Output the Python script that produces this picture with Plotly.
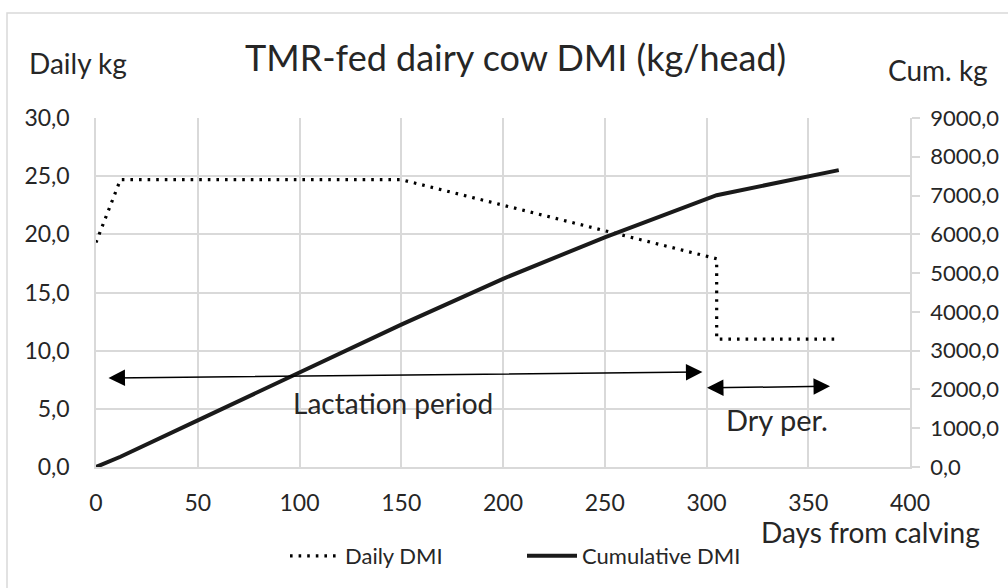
import plotly.graph_objects as go

# Daily dry matter intake (kg/head/day) by day from calving
daily_days = [0, 12, 150, 305, 305, 365]
daily_kg = [19.3, 24.7, 24.7, 17.9, 11.0, 11.0]

# Cumulative dry matter intake (kg/head)
cum_days = [0, 12, 50, 100, 150, 200, 250, 305, 365]
cum_kg = [0, 264, 1203, 2438, 3673, 4853, 5924, 7010, 7655]

# Axis ticks
x_ticks = [0, 50, 100, 150, 200, 250, 300, 350, 400]
y_ticks = [0, 5, 10, 15, 20, 25, 30]
y_tick_text = ["0,0", "5,0", "10,0", "15,0", "20,0", "25,0", "30,0"]
y2_ticks = [0, 1000, 2000, 3000, 4000, 5000, 6000, 7000, 8000, 9000]
y2_tick_text = ["0,0", "1000,0", "2000,0", "3000,0", "4000,0", "5000,0",
                "6000,0", "7000,0", "8000,0", "9000,0"]

# Period arrows: (start day, start kg, end day, end kg)
lactation_arrow = [5.4, 7.65, 298, 8.17]
dry_arrow = [299.5, 6.8, 360.7, 6.94]

FONT = "Lato"
TXT = "#262626"
GRID = "#d9d9d9"

fig = go.Figure()
fig.add_trace(go.Scatter(
    x=daily_days, y=daily_kg, mode="lines", name="Daily DMI",
    line=dict(color="#000000", width=3.2, dash="2.6px,6px"),
))
fig.add_trace(go.Scatter(
    x=cum_days, y=cum_kg, mode="lines", name="Cumulative DMI", yaxis="y2",
    line=dict(color="#1a1a1a", width=4),
))

annotations = []
for a in (lactation_arrow, dry_arrow):
    annotations.append(dict(
        x=a[2], y=a[3], ax=a[0], ay=a[1], xref="x", yref="y", axref="x", ayref="y",
        text="", showarrow=True, arrowside="end+start",
        arrowhead=2, startarrowhead=2, arrowsize=2.2, startarrowsize=2.2,
        arrowwidth=1.5, arrowcolor="#000000", standoff=0, startstandoff=0,
    ))

annotations += [
    dict(x=146.0, y=5.5, xref="x", yref="y", text="Lactation period", showarrow=False,
         font=dict(family=FONT, size=28, color=TXT)),
    dict(x=334.8, y=4.1, xref="x", yref="y", text="Dry per.", showarrow=False,
         font=dict(family=FONT, size=29, color=TXT)),
    dict(x=515, y=57, xref="paper", yref="paper", text="TMR-fed dairy cow DMI (kg/head)",
         showarrow=False, font=dict(family=FONT, size=36, color=TXT)),
    dict(x=78, y=63, text="Daily kg", showarrow=False,
         font=dict(family=FONT, size=28, color=TXT)),
    dict(x=938, y=70, text="Cum. kg", showarrow=False,
         font=dict(family=FONT, size=28, color=TXT)),
    dict(x=870, y=532, text="Days from calving", showarrow=False,
         font=dict(family=FONT, size=28, color=TXT)),
]

# Position the free-standing labels in pixel space of the 1008x588 canvas
L, R, T, B = 96, 98, 118, 121
PW, PH = 1008 - L - R, 588 - T - B
for an in annotations[-4:]:
    an["xref"] = "paper"
    an["yref"] = "paper"
    an["x"] = (an["x"] - L) / PW
    an["y"] = (588 - B - an["y"]) / PH
    an["xanchor"] = "center"
    an["yanchor"] = "middle"

fig.update_layout(
    width=1008, height=588,
    margin=dict(l=L, r=R, t=T, b=B, autoexpand=False),
    paper_bgcolor="white", plot_bgcolor="white",
    font=dict(family=FONT, color=TXT, size=22),
    showlegend=True,
    legend=dict(orientation="h", x=(285 - L) / PW, xanchor="left", y=-0.255,
                yanchor="middle", font=dict(family=FONT, size=22, color=TXT),
                entrywidth=172, entrywidthmode="pixels", itemwidth=50,
                bgcolor="rgba(0,0,0,0)"),
    xaxis=dict(range=[0, 400], tickvals=x_ticks, showgrid=True, gridcolor=GRID,
               gridwidth=1.5, zeroline=False, showline=True, linecolor=GRID,
               linewidth=1.5, ticks="", ticklabelstandoff=15, automargin=False,
               tickfont=dict(size=23, color=TXT)),
    yaxis=dict(range=[0, 30], tickvals=y_ticks, ticktext=y_tick_text, showgrid=True,
               gridcolor=GRID, gridwidth=1.5, zeroline=False, showline=True,
               linecolor=GRID, linewidth=1.5, ticks="", ticklabelstandoff=20,
               automargin=False, tickfont=dict(size=23, color=TXT)),
    yaxis2=dict(range=[0, 9000], tickvals=y2_ticks, ticktext=y2_tick_text,
                overlaying="y", side="right", showgrid=False, zeroline=False,
                showline=True, linecolor=GRID, linewidth=1.5, ticks="outside",
                ticklen=8, tickwidth=1.5, tickcolor=GRID, ticklabelstandoff=6,
                automargin=False, tickfont=dict(size=22, color=TXT)),
    annotations=annotations,
    shapes=[dict(type="rect", xref="paper", yref="paper",
                 x0=(7 - L) / PW, x1=(1100 - L) / PW,
                 y0=(588 - B - 700) / PH, y1=(588 - B - 13) / PH,
                 line=dict(color=GRID, width=1.5), fillcolor="rgba(0,0,0,0)",
                 layer="below")],
)

fig.write_html("out.html")
